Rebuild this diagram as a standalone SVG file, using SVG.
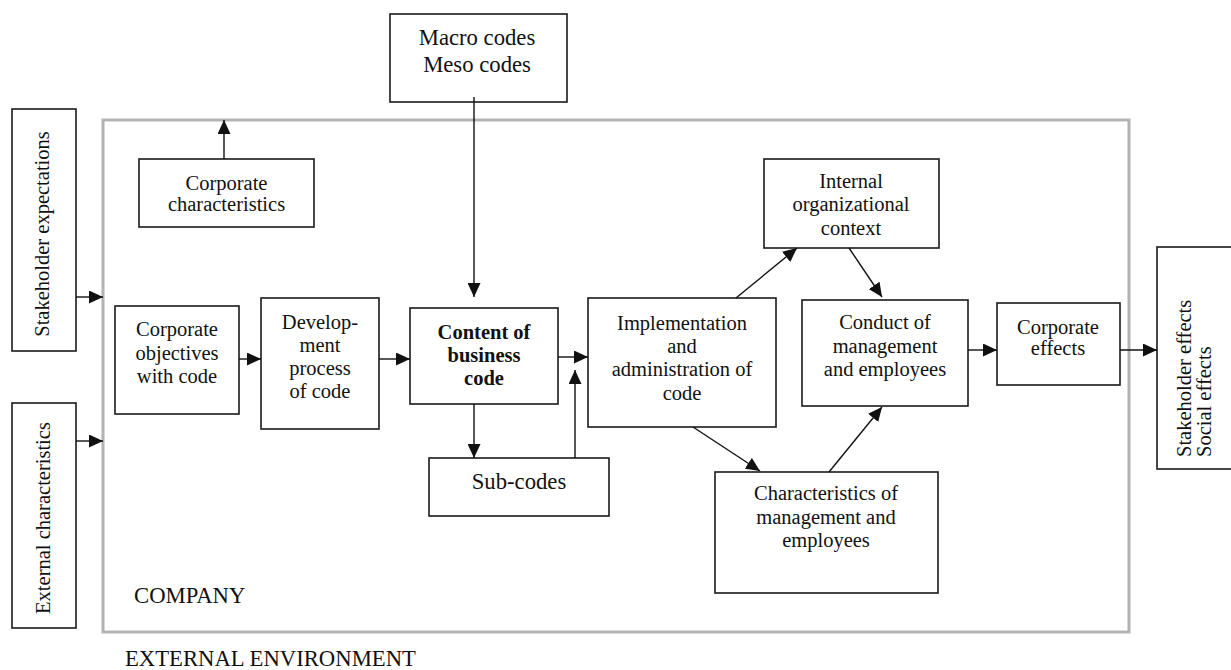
<svg xmlns="http://www.w3.org/2000/svg" width="1231" height="670" viewBox="0 0 1231 670">
  <style>
    .box { fill: #fff; stroke: #1a1a1a; stroke-width: 1.6; }
    .company { fill: none; stroke: #b3b3b3; stroke-width: 3; }
    .link { stroke: #111; stroke-width: 1.4; fill: none; marker-end: url(#arrow); }
    text { font-family: "Liberation Serif", "Times New Roman", serif; font-size: 20.5px; fill: #111; text-anchor: middle; }
    .big { font-size: 22.7px; }
    .bold { font-weight: bold; }
    .left { text-anchor: start; }
  </style>
  <defs>
    <marker id="arrow" markerUnits="userSpaceOnUse" markerWidth="14" markerHeight="13" refX="14" refY="6.5" orient="auto">
      <path d="M0,0 L14,6.5 L0,13 Z" fill="#111"/>
    </marker>
  </defs>

  <rect width="1231" height="670" fill="#fff"/>

  <!-- company boundary and environment labels -->
  <g id="company">
    <rect class="company" x="103" y="120" width="1026" height="512"/>
    <text class="big left" x="134" y="603">COMPANY</text>
  </g>
  <text class="big left" x="125" y="666">EXTERNAL ENVIRONMENT</text>

  <!-- external inputs -->
  <g id="stakeholder-expectations">
    <rect class="box" x="12" y="109" width="64" height="242"/>
    <text transform="translate(49,234) rotate(-90)">Stakeholder expectations</text>
  </g>
  <g id="external-characteristics">
    <rect class="box" x="12" y="403" width="64" height="225"/>
    <text transform="translate(50,518) rotate(-90)">External characteristics</text>
  </g>
  <g id="macro-codes">
    <rect class="box" x="390" y="14" width="177" height="88"/>
    <text class="big" x="477" y="45">Macro codes</text>
    <text class="big" x="477" y="72">Meso codes</text>
  </g>

  <!-- company internals -->
  <g id="corporate-characteristics">
    <rect class="box" x="139" y="159" width="175" height="68"/>
    <text x="226.5" y="190">Corporate</text>
    <text x="226.5" y="211">characteristics</text>
  </g>
  <g id="corporate-objectives">
    <rect class="box" x="115" y="306" width="124" height="108"/>
    <text x="177" y="336">Corporate</text>
    <text x="177" y="359.5">objectives</text>
    <text x="177" y="383">with code</text>
  </g>
  <g id="development-process">
    <rect class="box" x="261" y="298" width="118" height="131"/>
    <text x="320" y="329">Develop-</text>
    <text x="320" y="352">ment</text>
    <text x="320" y="375">process</text>
    <text x="320" y="398">of code</text>
  </g>
  <g id="content-of-code">
    <rect class="box" x="410" y="308" width="148" height="96"/>
    <text class="bold" x="484" y="339">Content of</text>
    <text class="bold" x="484" y="362">business</text>
    <text class="bold" x="484" y="385">code</text>
  </g>
  <g id="sub-codes">
    <rect class="box" x="429" y="458" width="180" height="58"/>
    <text class="big" x="519" y="489">Sub-codes</text>
  </g>
  <g id="implementation">
    <rect class="box" x="588" y="298" width="188" height="129"/>
    <text x="682" y="330">Implementation</text>
    <text x="682" y="353">and</text>
    <text x="682" y="376">administration of</text>
    <text x="682" y="400">code</text>
  </g>
  <g id="internal-context">
    <rect class="box" x="764" y="159" width="175" height="89"/>
    <text x="851" y="188">Internal</text>
    <text x="851" y="211">organizational</text>
    <text x="851" y="235">context</text>
  </g>
  <g id="conduct">
    <rect class="box" x="802" y="300" width="166" height="106"/>
    <text x="885" y="329">Conduct of</text>
    <text x="885" y="353">management</text>
    <text x="885" y="376">and employees</text>
  </g>
  <g id="management-characteristics">
    <rect class="box" x="715" y="472" width="223" height="121"/>
    <text x="826" y="500">Characteristics of</text>
    <text x="826" y="524">management and</text>
    <text x="826" y="547">employees</text>
  </g>
  <g id="corporate-effects">
    <rect class="box" x="997" y="303" width="123" height="82"/>
    <text x="1058" y="334">Corporate</text>
    <text x="1058" y="355">effects</text>
  </g>

  <!-- outcomes -->
  <g id="stakeholder-effects">
    <rect class="box" x="1157" y="247" width="80" height="222"/>
    <text class="left" transform="translate(1191,457) rotate(-90)">Stakeholder effects</text>
    <text class="left" transform="translate(1211,457) rotate(-90)">Social effects</text>
  </g>

  <!-- connectors -->
  <g id="connectors">
    <line class="link" x1="76" y1="297" x2="103" y2="297"/>
    <line class="link" x1="76" y1="441" x2="103" y2="441"/>
    <line class="link" x1="224" y1="159" x2="224" y2="120"/>
    <line class="link" x1="239" y1="359" x2="261" y2="359"/>
    <line class="link" x1="379" y1="359" x2="410" y2="359"/>
    <line class="link" x1="474" y1="97" x2="474" y2="297"/>
    <line class="link" x1="558" y1="357" x2="588" y2="357"/>
    <line class="link" x1="474" y1="404" x2="474" y2="458"/>
    <line class="link" x1="575" y1="458" x2="575" y2="370"/>
    <line class="link" x1="736" y1="298" x2="797" y2="248"/>
    <line class="link" x1="849" y1="248" x2="882" y2="297"/>
    <line class="link" x1="693" y1="427" x2="760" y2="471"/>
    <line class="link" x1="829" y1="472" x2="882" y2="407"/>
    <line class="link" x1="968" y1="350" x2="997" y2="350"/>
    <line class="link" x1="1120" y1="350" x2="1157" y2="350"/>
  </g>
</svg>
